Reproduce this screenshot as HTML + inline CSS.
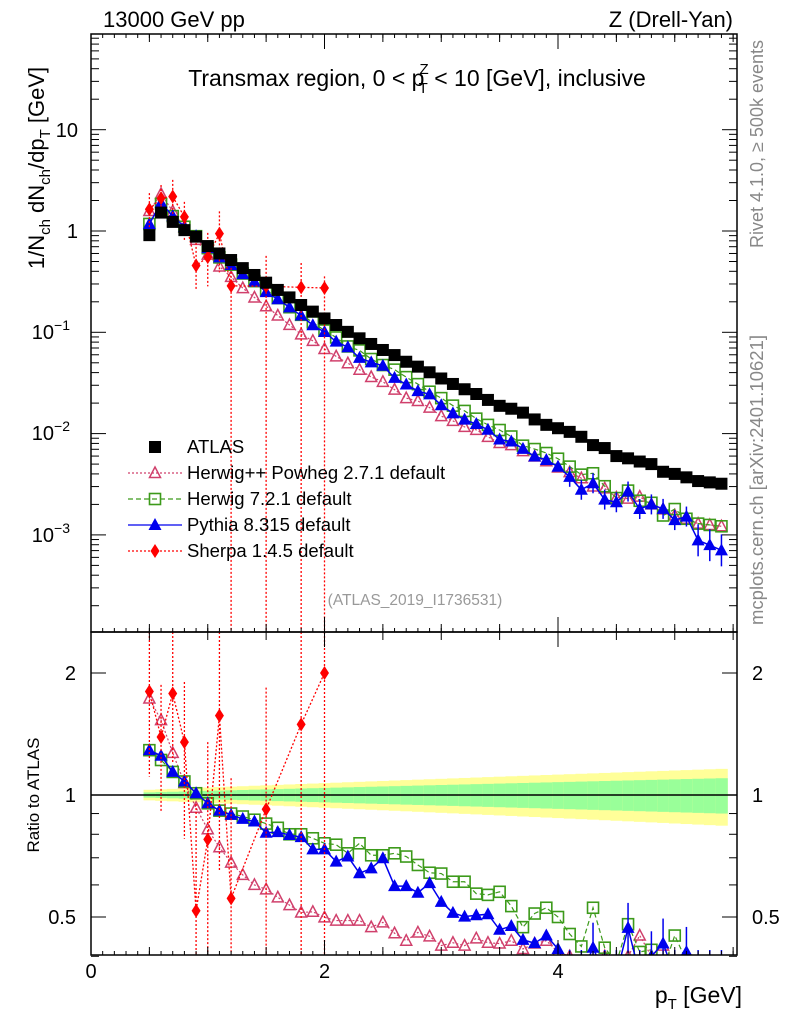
<!DOCTYPE html>
<html><head><meta charset="utf-8"><style>
html,body{margin:0;padding:0;background:#fff;overflow:hidden;width:786px;height:1024px}
svg{font-family:"Liberation Sans",sans-serif;display:block}
</style></head><body>
<svg id="c" width="786" height="1024" viewBox="0 0 786 1024" xmlns="http://www.w3.org/2000/svg">
<defs>
<clipPath id="cm"><rect x="91" y="34" width="646" height="598"/></clipPath>
<clipPath id="cr"><rect x="91" y="632" width="646" height="323"/></clipPath>
</defs>
<g id="bands" clip-path="url(#cr)"></g>
<g id="main" clip-path="url(#cm)"></g>
<g id="ratio" clip-path="url(#cr)"></g>
<g id="axes"></g>
<rect x="91" y="34" width="646" height="598" fill="none" stroke="#000" stroke-width="1.5"/>
<rect x="91" y="632" width="646" height="323" fill="none" stroke="#000" stroke-width="1.5"/>
<text x="103" y="27" font-size="22">13000 GeV pp</text>
<text x="733" y="27" font-size="22" text-anchor="end">Z (Drell-Yan)</text>
<text x="417" y="86" font-size="23" text-anchor="middle">Transmax region, 0 &lt; p<tspan font-size="15" dy="-12" dx="-5">Z</tspan><tspan font-size="15" dy="19" dx="-10">T</tspan><tspan dy="-7"> &lt; 10 [GeV], inclusive</tspan></text>
<text transform="translate(44,168) rotate(-90)" font-size="22" text-anchor="middle">1/N<tspan font-size="15" dy="6">ch</tspan><tspan dy="-6"> dN</tspan><tspan font-size="15" dy="6">ch</tspan><tspan dy="-6">/dp</tspan><tspan font-size="15" dy="6">T</tspan><tspan dy="-6"> [GeV]</tspan></text>
<text transform="translate(39,795) rotate(-90)" font-size="17" text-anchor="middle">Ratio to ATLAS</text>
<text x="742" y="1003" font-size="23" text-anchor="end">p<tspan font-size="15" dy="6">T</tspan><tspan dy="-6"> [GeV]</tspan></text>
<text transform="translate(763,144) rotate(-90)" font-size="18" fill="#888" text-anchor="middle">Rivet 4.1.0, ≥ 500k events</text>
<text transform="translate(763,480) rotate(-90)" font-size="18.5" fill="#888" text-anchor="middle">mcplots.cern.ch [arXiv:2401.10621]</text>
<text x="415" y="605" font-size="15.5" fill="#999" text-anchor="middle">(ATLAS_2019_I1736531)</text>
<g id="legend"></g>
</svg>
<script>
const xs=[];for(let i=0;i<50;i++)xs.push(+(0.5+0.1*i).toFixed(2));
const atlas=[0.91,1.52,1.23,1.02,0.88,0.71,0.60,0.517,0.43,0.368,0.309,0.262,0.221,0.186,0.16,0.137,0.118,0.101,0.0872,0.0767,0.0669,0.0596,0.0512,0.0458,0.0403,0.0350,0.0309,0.0274,0.0246,0.0215,0.0188,0.0176,0.0161,0.0138,0.0122,0.0113,0.0104,0.0093,0.0077,0.0072,0.0060,0.0057,0.0053,0.0050,0.0042,0.0040,0.0037,0.0034,0.0033,0.0032];
const pythiaR=[1.29,1.25,1.14,1.08,1.01,0.954,0.915,0.893,0.873,0.86,0.807,0.81,0.797,0.787,0.734,0.734,0.685,0.705,0.641,0.659,0.698,0.596,0.596,0.574,0.606,0.545,0.512,0.501,0.505,0.508,0.465,0.475,0.439,0.431,0.45,0.417,0.36,0.30,0.42,0.31,0.35,0.47,0.34,0.40,0.43,0.35,0.41,0.26,0.24,0.22];
const herwig7R=[1.29,1.22,1.14,1.08,1.01,0.954,0.915,0.9,0.885,0.869,0.85,0.83,0.8,0.8,0.782,0.76,0.754,0.718,0.76,0.71,0.71,0.718,0.705,0.672,0.643,0.64,0.611,0.611,0.571,0.567,0.577,0.532,0.472,0.51,0.527,0.5,0.454,0.423,0.527,0.42,0.385,0.48,0.41,0.415,0.37,0.45,0.39,0.38,0.38,0.38];
const herwigppR=[1.73,1.53,1.27,1.07,0.93,0.823,0.743,0.681,0.635,0.6,0.585,0.559,0.535,0.513,0.515,0.499,0.49,0.49,0.49,0.472,0.485,0.456,0.437,0.458,0.448,0.425,0.432,0.425,0.443,0.432,0.43,0.437,0.417,0.43,0.437,0.41,0.4,0.39,0.39,0.4,0.39,0.4,0.45,0.4,0.425,0.39,0.39,0.38,0.38,0.38];
const sherpaX=[0.5,0.6,0.7,0.8,0.9,1.0,1.1,1.2,1.5,1.8,2.0];
const sherpaR=[1.8,1.39,1.78,1.35,0.518,0.777,1.57,0.556,0.922,1.494,2.0];
const sherpaHi=[2.6,1.87,2.6,1.9,0.95,1.35,2.6,1.1,1.84,2.6,2.6];
const sherpaLo=[1.11,0.91,1.2,0.78,0.3,0.4,0.65,0,0,0,0];
const bandGreen=[0.015,0.10];
const bandYellow=[0.03,0.16];
const NS="http://www.w3.org/2000/svg";
const X=v=>91+v*116.75, Ym=v=>231-101.3*Math.log10(v), Yr=v=>795-405.3*Math.log10(v);
const cM=y=>Math.max(34,Math.min(632,y)), cR=y=>Math.max(632,Math.min(955,y));
function mk(t,a,p){const e=document.createElementNS(NS,t);for(const k in a)e.setAttribute(k,a[k]);p.appendChild(e);return e;}
const M=document.getElementById('main'),R=document.getElementById('ratio'),B=document.getElementById('bands'),A=document.getElementById('axes'),L=document.getElementById('legend');
const hw=5.84;
xs.forEach((x,i)=>{const f=i/49;const y1=bandYellow[0]+(bandYellow[1]-bandYellow[0])*f,g1=bandGreen[0]+(bandGreen[1]-bandGreen[0])*f;
 let r=mk('rect',{x:X(x)-hw,width:hw*2+0.5,y:Yr(1+y1),height:Yr(1-y1)-Yr(1+y1),fill:'#ffff99'},B);
 
 
 r=mk('rect',{x:X(x)-hw,width:hw*2+0.5,y:Yr(1+g1),height:Yr(1-g1)-Yr(1+g1),fill:'#99ff99'},B);
 
 });
mk('line',{x1:91,x2:737,y1:Yr(1),y2:Yr(1),stroke:'#000','stroke-width':1.5},B);
function marker(p,type,cx,cy,col){let e;
 if(type==='sq')e=mk('rect',{x:cx-6,y:cy-6,width:12,height:12,fill:'#000'},p);
 else if(type==='osq')e=mk('rect',{x:cx-5.5,y:cy-5.5,width:11,height:11,fill:'none',stroke:col,'stroke-width':1.6},p);
 else if(type==='otri')e=mk('path',{d:`M${cx},${cy-6}L${cx+5.5},${cy+4.5}L${cx-5.5},${cy+4.5}Z`,fill:'none',stroke:col,'stroke-width':1.5},p);
 else if(type==='tri')e=mk('path',{d:`M${cx},${cy-7}L${cx+6.5},${cy+5}L${cx-6.5},${cy+5}Z`,fill:col},p);
 else e=mk('path',{d:`M${cx},${cy-7}L${cx+4.5},${cy}L${cx},${cy+7}L${cx-4.5},${cy}Z`,fill:col},p);
 return e;}
const series=[
 {n:'herwigpp',r:herwigppR,col:'#d0406c',m:'otri',dash:'2,2',w:1.2},
 {n:'herwig7',r:herwig7R,col:'#3c9a1a',m:'osq',dash:'5,3',w:1.2},
 {n:'pythia',r:pythiaR,col:'#0000ee',m:'tri',dash:'',w:1.5}];
series.forEach(s=>{
 const pm=xs.map((x,i)=>[X(x),Ym(atlas[i]*s.r[i])]), pr=xs.map((x,i)=>[X(x),Math.min(Yr(s.r[i]),975)]);
 let l=mk('polyline',{points:pm.join(' '),fill:'none',stroke:s.col,'stroke-width':s.w,'stroke-dasharray':s.dash},M);
 
 
 l=mk('polyline',{points:pr.join(' '),fill:'none',stroke:s.col,'stroke-width':s.w,'stroke-dasharray':s.dash},R);
 
 
 pm.forEach((p,i)=>{if(s.n==='pythia'&&i>35){const eb=i>46?16:10;mk('line',{x1:p[0],x2:p[0],y1:p[1]-eb,y2:p[1]+eb,stroke:s.col,'stroke-width':1.5},M);mk('line',{x1:pr[i][0],x2:pr[i][0],y1:cR(pr[i][1]-25),y2:cR(pr[i][1]+25),stroke:s.col,'stroke-width':1.5},R);}
  const e=marker(M,s.m,p[0],p[1],s.col);
  
  
  if(pr[i][1]<970){const f=marker(R,s.m,pr[i][0],pr[i][1],s.col);
  
  }});
});
const sx=sherpaX.map(x=>Math.round((x-0.5)*10));
const sm=sx.map((k,j)=>[X(sherpaX[j]),Ym(atlas[k]*sherpaR[j])]), sr=sherpaX.map((x,j)=>[X(x),Yr(sherpaR[j])]);
mk('polyline',{points:sm.join(' '),fill:'none',stroke:'#ff0000','stroke-width':1.3,'stroke-dasharray':'2,2'},M);
mk('polyline',{points:sr.join(' '),fill:'none',stroke:'#ff0000','stroke-width':1.3,'stroke-dasharray':'2,2'},R);
sherpaX.forEach((x,j)=>{const k=sx[j];
 const lo=sherpaLo[j]>0?cM(Ym(atlas[k]*sherpaLo[j])):632, hi=cM(Ym(atlas[k]*sherpaHi[j]));
 mk('line',{x1:X(x),x2:X(x),y1:hi,y2:lo,stroke:'#ff0000','stroke-width':1.3,'stroke-dasharray':'2,2'},M);
 const lr=sherpaLo[j]>0?cR(Yr(sherpaLo[j])):955;
 mk('line',{x1:X(x),x2:X(x),y1:cR(Yr(sherpaHi[j])),y2:lr,stroke:'#ff0000','stroke-width':1.3,'stroke-dasharray':'2,2'},R);
 let e=marker(M,'dia',sm[j][0],sm[j][1],'#ff0000');
 
 
 e=marker(R,'dia',sr[j][0],sr[j][1],'#ff0000');
 
 });
xs.forEach((x,i)=>{const e=marker(M,'sq',X(x),Ym(atlas[i]));
 
 });
function tk(x1,y1,x2,y2){mk('line',{x1,y1,x2,y2,stroke:'#000','stroke-width':1},A);}
function txt(x,y,s,anc,fs){const t=mk('text',{x,y,'font-size':fs||20,'text-anchor':anc||'middle'},A);t.textContent=s;
 
 return t;}
for(let v=0;v<=5.5;v+=0.5){const x=X(v),big=Math.abs(v%2)<1e-6;const L2=big?15:8;
 tk(x,632,x,632-L2);tk(x,34,x,34+L2);tk(x,955,x,955-L2);tk(x,632,x,632+L2);}
for(let v=0.1;v<5.55;v+=0.1){const x=X(v);tk(x,632,x,628);tk(x,34,x,38);tk(x,955,x,951);}
[0,2,4].forEach(v=>txt(X(v),978,String(v)));
for(let d=-4;d<=1;d++)for(let m=1;m<10;m++){const v=m*Math.pow(10,d);const y=Ym(v);if(y<34||y>632)continue;const L2=m===1?15:8;tk(91,y,91+L2,y);tk(737,y,737-L2,y);}
txt(78,137,'10','end');txt(78,238,'1','end');
[[-1,332],[-2,433],[-3,535]].forEach(([e,y])=>{const t=txt(70,y+7,'10','end');const s=mk('tspan',{'font-size':14,dy:-9},t);s.textContent='−'+(-e);});
[0.4,0.5,0.6,0.7,0.8,0.9,1,2].forEach(v=>{const y=Yr(v);const L2=(v===0.5||v===1||v===2)?15:8;tk(91,y,91+L2,y);tk(737,y,737-L2,y);});
[[2,'2'],[1,'1'],[0.5,'0.5']].forEach(([v,s])=>{txt(76,Yr(v)+7,s,'end');txt(752,Yr(v)+7,s,'start');});
const leg=[['ATLAS','sq','#000',''],['Herwig++ Powheg 2.7.1 default','otri','#d0406c','2,2'],['Herwig 7.2.1 default','osq','#3c9a1a','5,3'],['Pythia 8.315 default','tri','#0000ee',''],['Sherpa 1.4.5 default','dia','#ff0000','2,2']];
leg.forEach((l,i)=>{const y=447+26*i;
 if(i>0)mk('line',{x1:128,x2:182,y1:y,y2:y,stroke:l[2],'stroke-width':1.3,'stroke-dasharray':l[3]},L);
 const e=marker(L,l[1],155,y,l[2]);
 
 
 const t=mk('text',{x:187,y:y+6,'font-size':18.5},L);t.textContent=l[0];
 
 });
</script>
</body></html>
